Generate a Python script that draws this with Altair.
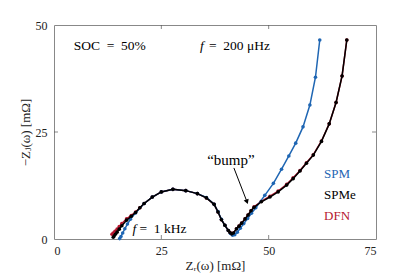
import altair as alt
import pandas as pd

# ---------------- data ----------------
spm_x = [15.3, 15.6, 16.0, 16.5, 17.1, 17.8, 19.0, 21.0, 22.9, 25.0, 27.7, 30.7, 33.4,
         35.5, 37.3, 38.2, 39.0, 39.8, 40.6, 41.1, 41.6, 42.1, 42.7, 43.4, 44.2, 45.1,
         46.0, 47.0, 49.1, 51.1, 53.0, 54.7, 56.3, 58.0, 59.6, 60.9, 61.9]
spm_y = [0.1, 0.6, 1.4, 2.4, 3.5, 4.6, 6.1, 8.3, 9.8, 11.0, 11.6, 11.3, 10.6,
         9.7, 8.1, 6.4, 4.6, 3.2, 2.0, 1.3, 0.9, 1.0, 1.6, 2.5, 3.6, 4.8,
         6.0, 7.3, 10.2, 13.0, 16.3, 19.4, 22.4, 26.2, 31.3, 37.8, 46.5]

spme_x = [13.8, 14.0, 14.3, 14.7, 15.2, 15.8, 16.9, 18.0, 19.0, 20.0, 21.0, 22.9, 25.0,
          27.7, 30.7, 33.4, 35.5, 37.3, 38.2, 39.0, 39.8, 40.6, 41.0, 41.4, 41.8, 42.5,
          43.1, 43.7, 44.5, 45.2, 45.9, 46.6, 48.3, 50.3, 52.2, 54.2, 55.7, 57.3, 58.8,
          60.4, 62.3, 64.1, 65.7, 67.1, 68.2]
spme_y = [0.4, 0.7, 1.1, 1.6, 2.3, 3.1, 4.4, 5.3, 6.2, 7.3, 8.3, 9.8, 11.0,
          11.6, 11.3, 10.6, 9.6, 8.1, 6.3, 4.5, 3.2, 2.0, 1.5, 1.2, 1.4, 2.4,
          3.0, 3.7, 4.7, 5.6, 6.6, 7.4, 8.7, 9.8, 11.0, 12.6, 14.1, 15.9, 17.7,
          19.6, 22.8, 26.9, 31.9, 38.1, 46.5]

dfn_x = [13.5, 13.8, 14.2, 14.7, 15.2, 15.8, 16.9, 18.0, 19.0, 20.0, 21.0, 22.9, 25.0,
         27.7, 30.7, 33.4, 35.5, 37.3, 38.2, 39.0, 39.8, 40.6, 41.0, 41.4, 41.8, 42.5,
         43.1, 43.7, 44.5, 45.2, 45.9, 46.6, 48.3, 50.3, 52.2, 54.2, 55.7, 57.3, 58.8,
         60.4, 62.3, 64.1, 65.7, 67.1, 68.2]
dfn_y = [1.1, 1.4, 1.8, 2.3, 2.9, 3.6, 4.7, 5.5, 6.3, 7.3, 8.3, 9.8, 11.0,
         11.6, 11.3, 10.6, 9.6, 8.1, 6.3, 4.5, 3.2, 2.0, 1.5, 1.2, 1.4, 2.4,
         3.0, 3.7, 4.7, 5.6, 6.6, 7.5, 8.8, 10.0, 11.2, 12.8, 14.3, 16.0, 17.8,
         19.7, 22.9, 26.9, 31.9, 38.1, 46.5]

x_ticks = [0, 25, 50, 75]
y_ticks = [0, 25, 50]
inner_x_ticks = [25, 50]
inner_y_ticks = [25]

models = ["SPM", "SPMe", "DFN"]
model_colors = ["#1f66b3", "#000000", "#b5172f"]
legend_x = [62.9, 62.9, 62.9]
legend_y = [15.1, 10.2, 5.3]

EN = "\u2002"
ann_text = ["SOC" + EN + "=" + EN + "50%", "=" + EN + "200 μHz", "=" + EN + "1 kHz"]
ann_x = [4.6, 36.1, 19.9]
ann_y = [45.0, 45.0, 2.3]
ital_text = ["f", "f"]
ital_x = [34.0, 18.3]
ital_y = [45.0, 2.3]
bump_text = ["“bump”"]
bump_x = [41.2]
bump_y = [18.4]

arrow_x = [41.9, 44.95]
arrow_y = [16.6, 8.7]

# ---------------- chart ----------------
FONT = "Liberation Serif, DejaVu Serif, serif"
AX = "#555555"

xscale = alt.Scale(domain=[0, 75], nice=False, zero=False)
yscale = alt.Scale(domain=[0, 50], nice=False, zero=False)
xaxis = alt.Axis(values=x_ticks, grid=False, ticks=False, domain=False,
                 labelFont=FONT, labelFontSize=12, labelColor="#222", labelPadding=6,
                 title="Zᵣ(ω) [mΩ]", titleFont=FONT, titleFontSize=13,
                 titleFontWeight="normal", titleColor="#222", titlePadding=3)
yaxis = alt.Axis(values=y_ticks, grid=False, ticks=False, domain=False,
                 labelFont=FONT, labelFontSize=12, labelColor="#222", labelPadding=7,
                 title="−Zⱼ(ω) [mΩ]", titleFont=FONT, titleFontSize=13,
                 titleFontWeight="normal", titleColor="#222",
                 titleX=-29, titleY=107, titleAlign="center", titleBaseline="middle",
                 titleAngle=270)


def X(f):
    return alt.X(f, type="quantitative", scale=xscale, axis=xaxis)


def Y(f):
    return alt.Y(f, type="quantitative", scale=yscale, axis=yaxis)


def series(xs, ys, color):
    df = pd.DataFrame({"x": xs, "y": ys, "i": list(range(len(xs)))})
    base = alt.Chart(df).encode(x=X("x"), y=Y("y"), order=alt.Order("i:Q"))
    return [base.mark_line(color=color, strokeWidth=1.5),
            base.mark_circle(color=color, size=13, opacity=1)]


layers = []
layers += series(dfn_x, dfn_y, model_colors[2])
layers += series(spm_x, spm_y, model_colors[0])
layers += series(spme_x, spme_y, model_colors[1])

# inward ticks
bt = pd.DataFrame({"v": inner_x_ticks})
lt = pd.DataFrame({"v": inner_y_ticks})
layers.append(alt.Chart(bt).mark_tick(orient="vertical", size=4, thickness=1, yOffset=-2, color=AX)
              .encode(x=X("v"), y=alt.YDatum(0)))
layers.append(alt.Chart(bt).mark_tick(orient="vertical", size=4, thickness=1, yOffset=2, color=AX)
              .encode(x=X("v"), y=alt.YDatum(50)))
layers.append(alt.Chart(lt).mark_tick(orient="horizontal", size=4, thickness=1, xOffset=2, color=AX)
              .encode(y=Y("v"), x=alt.XDatum(0)))
layers.append(alt.Chart(lt).mark_tick(orient="horizontal", size=4, thickness=1, xOffset=-2, color=AX)
              .encode(y=Y("v"), x=alt.XDatum(75)))

# arrow
adf = pd.DataFrame({"x": [arrow_x[0]], "y": [arrow_y[0]], "x2": [arrow_x[1]], "y2": [arrow_y[1]]})
layers.append(alt.Chart(adf).mark_rule(color="black", strokeWidth=1)
              .encode(x=X("x"), y=Y("y"), x2="x2:Q", y2="y2:Q"))
hdf = pd.DataFrame({"x": [arrow_x[1]], "y": [arrow_y[1]]})
layers.append(alt.Chart(hdf).mark_point(shape="triangle-down", filled=True, size=28, angle=339,
                                        color="black", opacity=1)
              .encode(x=X("x"), y=Y("y")))

# annotations
tdf = pd.DataFrame({"t": ann_text, "x": ann_x, "y": ann_y})
layers.append(alt.Chart(tdf).mark_text(align="left", baseline="middle", font=FONT, fontSize=13.5,
                                       color="black")
              .encode(x=X("x"), y=Y("y"), text="t:N"))
idf = pd.DataFrame({"t": ital_text, "x": ital_x, "y": ital_y})
layers.append(alt.Chart(idf).mark_text(align="left", baseline="middle", font=FONT, fontSize=13.5,
                                       fontStyle="italic", color="black")
              .encode(x=X("x"), y=Y("y"), text="t:N"))
bdf = pd.DataFrame({"t": bump_text, "x": bump_x, "y": bump_y})
layers.append(alt.Chart(bdf).mark_text(align="center", baseline="middle", font=FONT, fontSize=15,
                                       color="black")
              .encode(x=X("x"), y=Y("y"), text="t:N"))

# legend as coloured text
ldf = pd.DataFrame({"t": models, "x": legend_x, "y": legend_y})
layers.append(alt.Chart(ldf).mark_text(align="left", baseline="middle", font=FONT, fontSize=13)
              .encode(x=X("x"), y=Y("y"), text="t:N",
                      color=alt.Color("t:N", scale=alt.Scale(domain=models, range=model_colors),
                                      legend=None)))

chart = alt.layer(*layers).properties(
    width=322, height=214,
    autosize=alt.AutoSizeParams(type="none"),
    padding={"left": 46, "top": 17, "right": 25, "bottom": 38},
    background="white",
).configure_view(stroke="#888888", strokeWidth=1)

chart.save("out.html", embed_options={"renderer": "svg", "actions": False})
